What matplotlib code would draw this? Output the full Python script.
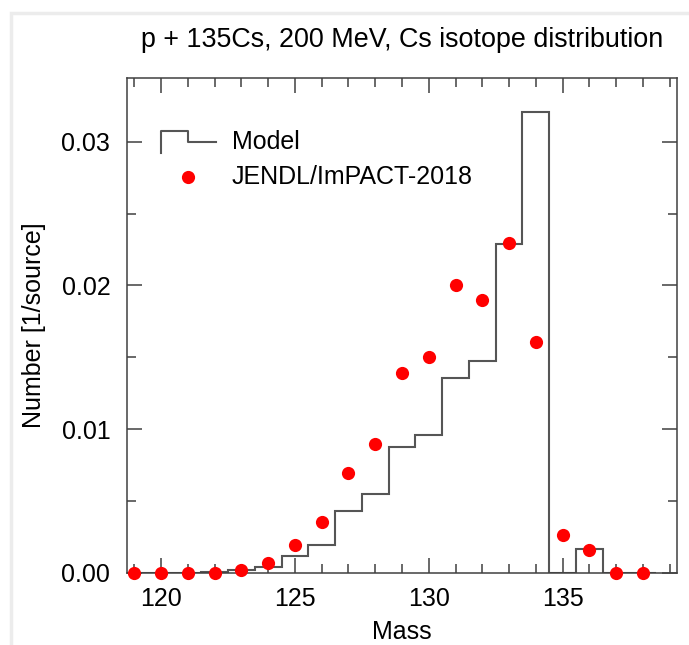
import matplotlib
matplotlib.use("Agg")
import matplotlib.pyplot as plt
import matplotlib.patches as mpatches
import numpy as np

plt.rcParams['font.family'] = ['Liberation Sans', 'DejaVu Sans']

# ---- data ----
masses = list(range(119, 139))
model_values = [0.0, 0.0, 0.00002, 0.0001, 0.0002, 0.0004, 0.00118, 0.00197,
                0.00434, 0.00552, 0.00875, 0.0096, 0.01357, 0.01473, 0.0229,
                0.03208, 0.0, 0.0017, 0.0, 0.0]
jendl_values = [0.0, 0.0, 0.0, 0.0, 0.0002, 0.00072, 0.00195, 0.00358,
                0.00699, 0.00898, 0.01392, 0.0150, 0.02004, 0.01896, 0.02294,
                0.01605, 0.00267, 0.00163, 0.0, 0.0]
x_ticks = [120, 125, 130, 135]
y_ticks = [0.00, 0.01, 0.02, 0.03]
title = "p + 135Cs, 200 MeV, Cs isotope distribution"
series_names = ["Model", "JENDL/ImPACT-2018"]

W, H = 689, 645
fig = plt.figure(figsize=(W / 100, H / 100), dpi=100)
ax = fig.add_axes([127 / W, 1 - 573 / H, 550 / W, 495 / H])

axis_col = '#404040'
hist_col = '#555555'
fs = 18

edges = np.arange(masses[0] - 0.5, masses[-1] + 1.0, 1.0)
ax.stairs(model_values, edges, color=hist_col, lw=1.5, zorder=2)
ax.plot(masses, jendl_values, 'o', color='#ff0000', ms=9.5, mec='none',
        clip_on=False, zorder=5)

ax.set_xlim(118.73, 139.27)
ax.set_ylim(0, 0.03443)
ax.set_xticks(x_ticks)
ax.set_xticks(np.arange(119, 140), minor=True)
ax.set_yticks(y_ticks)
ax.set_yticks(np.arange(0, 0.034, 0.005), minor=True)
ax.set_yticklabels([f"{v:.2f}" for v in y_ticks])

ax.tick_params(which='both', direction='in', top=True, right=True,
               color=axis_col, width=1.1, labelsize=fs, labelcolor='black')
ax.tick_params(which='major', length=11)
ax.tick_params(which='minor', length=6.5)
ax.tick_params(axis='x', which='major', pad=10)
ax.tick_params(axis='y', which='major', pad=12)
for s in ax.spines.values():
    s.set_color(axis_col)
    s.set_linewidth(1.1)

ax.set_xlabel("Mass", fontsize=fs, labelpad=6.5)
ax.set_ylabel("Number [1/source]", fontsize=fs, labelpad=11)

fig.text((127 + 677) / 2 / W, 1 - 40 / H, title, ha='center', va='center',
         fontsize=19.4)

# legend (hand drawn)
ax.plot([0.0613, 0.0613, 0.1115, 0.1115, 0.1618],
        [0.849, 0.8935, 0.8935, 0.8713, 0.8713],
        transform=ax.transAxes, color=hist_col, lw=1.5, clip_on=False)
ax.plot([0.110], [0.7994], 'o', transform=ax.transAxes, color='#ff0000',
        ms=9.5, mec='none')
ax.text(0.19, 0.871, series_names[0], transform=ax.transAxes, fontsize=fs,
        va='center', ha='left')
ax.text(0.19, 0.7994, series_names[1], transform=ax.transAxes, fontsize=fs,
        va='center', ha='left')

# faint screenshot frame
fig.patches.append(mpatches.Rectangle((11 / W, -0.1), 1.2, 1 - 13 / H + 0.1,
                                      transform=fig.transFigure, fill=False,
                                      edgecolor='#ececec', lw=2.5))

fig.savefig("out.png", dpi=100)
